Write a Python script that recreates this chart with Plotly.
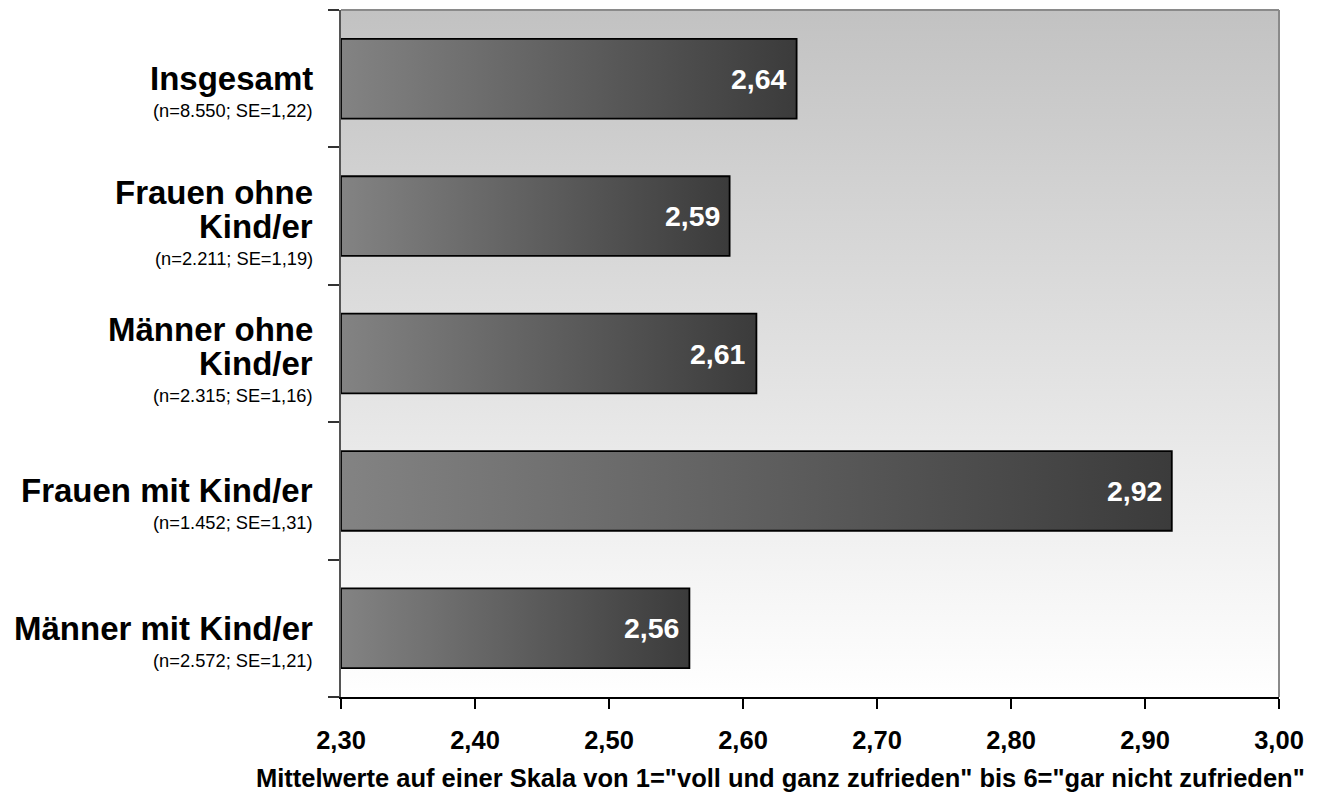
import plotly.graph_objects as go

# Satisfaction means by group (lower = more satisfied)
categories = [
    "Insgesamt",
    "Frauen ohne<br>Kind/er",
    "Männer ohne<br>Kind/er",
    "Frauen mit Kind/er",
    "Männer mit Kind/er",
]
means = [2.64, 2.59, 2.61, 2.92, 2.56]
sample_sizes = [8550, 2211, 2315, 1452, 2572]
std_errors = [1.22, 1.19, 1.16, 1.31, 1.21]
x_ticks = [2.30, 2.40, 2.50, 2.60, 2.70, 2.80, 2.90, 3.00]
x_title = 'Mittelwerte auf einer Skala von 1="voll und ganz zufrieden" bis 6="gar nicht zufrieden"'

X_MIN, X_MAX = x_ticks[0], x_ticks[-1]
BAR_W = 0.58
FONT = "Arial, 'Liberation Sans', sans-serif"


def de_num(v, d=2):
    return f"{v:.{d}f}".replace(".", ",")


def de_int(n):
    return f"{n:,}".replace(",", ".")


n = len(categories)
pos = [n - 1 - i for i in range(n)]  # first category on top

fig = go.Figure()

# Plot-area background: vertical grey-to-white gradient
fig.add_trace(go.Scatter(
    x=[X_MIN, X_MAX, X_MAX, X_MIN, X_MIN],
    y=[-0.5, -0.5, n - 0.5, n - 0.5, -0.5],
    mode="lines", line=dict(width=0),
    fill="toself",
    fillgradient=dict(type="vertical", colorscale=[[0, "#ffffff"], [1, "#c2c2c2"]]),
    hoverinfo="skip", showlegend=False,
))

# Bars with a horizontal gradient fill and black outline
for p, v in zip(pos, means):
    y0, y1 = p - BAR_W / 2, p + BAR_W / 2
    fig.add_trace(go.Scatter(
        x=[X_MIN, v, v, X_MIN, X_MIN],
        y=[y0, y0, y1, y1, y0],
        mode="lines", line=dict(color="#000000", width=1.8),
        fill="toself",
        fillgradient=dict(type="horizontal", colorscale=[[0, "#838383"], [1, "#3b3b3b"]]),
        hoverinfo="skip", showlegend=False,
    ))

annotations = []

# Value labels inside the bar ends
for p, v in zip(pos, means):
    annotations.append(dict(
        x=v, y=p, xref="x", yref="y", xanchor="right", yanchor="middle",
        xshift=-8, showarrow=False, text=de_num(v),
        font=dict(family=FONT, size=28.5, color="#ffffff", weight="bold"),
    ))

# Group labels with sample size and standard error
for p, cat, nn, se in zip(pos, categories, sample_sizes, std_errors):
    lines = cat.split("<br>")
    first = -24 if len(lines) == 2 else 0
    offsets = [first + 34 * k for k in range(len(lines))]
    for off, line in zip(offsets, lines):
        annotations.append(dict(
            x=0, y=p, xref="paper", yref="y", xanchor="right", yanchor="middle",
            xshift=-26, yshift=-off, showarrow=False, text=line,
            font=dict(family=FONT, size=33, color="#000000", weight="bold"),
        ))
    annotations.append(dict(
        x=0, y=p, xref="paper", yref="y", xanchor="right", yanchor="middle",
        xshift=-26, yshift=-(offsets[-1] + 32), showarrow=False,
        text=f"(n={de_int(nn)}; SE={de_num(se)})",
        font=dict(family=FONT, size=18.3, color="#000000"),
    ))

# Axis title
annotations.append(dict(
    x=0.469, y=0, xref="paper", yref="paper", xanchor="center", yanchor="middle",
    yshift=-81, showarrow=False, text=x_title,
    font=dict(family=FONT, size=25.5, color="#000000", weight="bold"),
))

fig.update_layout(
    width=1318, height=794,
    margin=dict(l=341, r=39, t=10, b=97),
    paper_bgcolor="#ffffff", plot_bgcolor="#ffffff",
    separators=",.",
    font=dict(family=FONT, color="#000000"),
    annotations=annotations,
    shapes=[
        dict(type="line", xref="paper", yref="paper", x0=0, x1=1, y0=1, y1=1,
             line=dict(color="#8a8a8a", width=2)),
        dict(type="line", xref="paper", yref="paper", x0=1, x1=1, y0=0, y1=1,
             line=dict(color="#8a8a8a", width=2)),
    ],
    xaxis=dict(
        range=[X_MIN, X_MAX], tickvals=x_ticks, tickformat=".2f",
        ticks="outside", ticklen=10, tickwidth=1.5, tickcolor="#000000",
        showline=True, linecolor="#000000", linewidth=2,
        showgrid=False, zeroline=False, ticklabelstandoff=9,
        tickfont=dict(family=FONT, size=25.5, color="#000000", weight="bold"),
    ),
    yaxis=dict(
        range=[-0.5, n - 0.5],
        tickvals=[k - 0.5 for k in range(n + 1)], ticktext=[""] * (n + 1),
        ticks="outside", ticklen=11, tickwidth=1.5, tickcolor="#333333",
        showline=True, linecolor="#555555", linewidth=2,
        showgrid=False, zeroline=False,
    ),
)

fig.write_html("out.html")
